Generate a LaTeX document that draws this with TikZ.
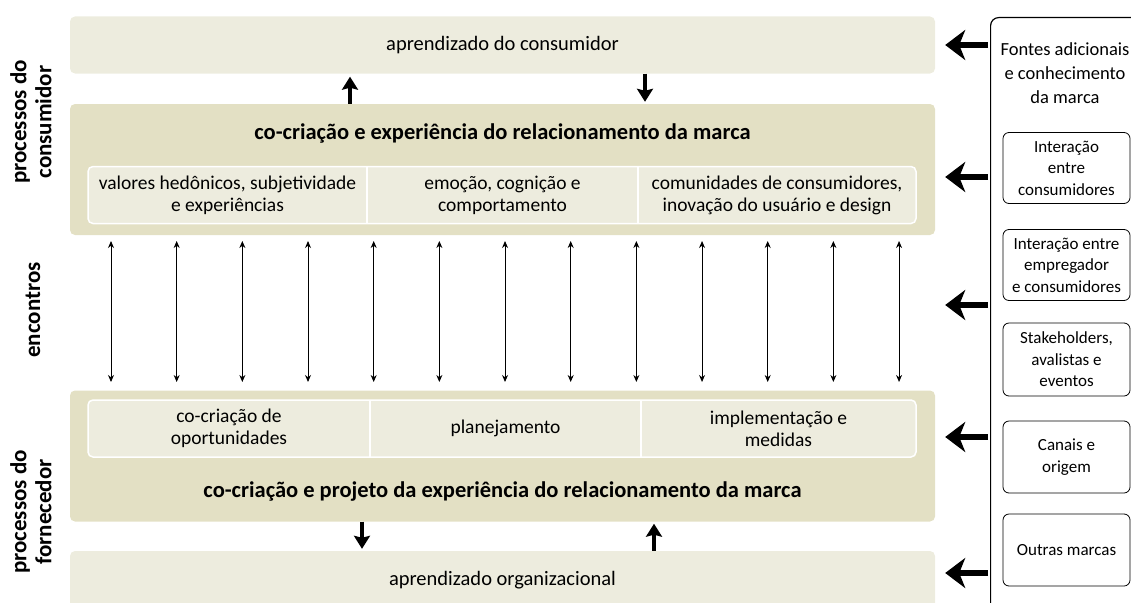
\documentclass[tikz,border=0pt]{standalone}
\usepackage{fontspec}
\setmainfont{Carlito}
\usetikzlibrary{arrows.meta}
\definecolor{paleolive}{RGB}{237,236,222}
\definecolor{olive}{RGB}{227,224,196}

\begin{document}
\begin{tikzpicture}[x=1pt, y=-1pt, font=\fontsize{19.5}{22}\selectfont,
  learn/.style = {fill=paleolive, rounded corners=5pt, minimum width=865pt, minimum height=57pt, inner sep=0pt, font=\fontsize{20.5}{22}\selectfont},
  band/.style = {fill=olive, rounded corners=5pt, minimum width=865pt, minimum height=131pt, inner sep=0pt},
  row/.style = {fill=paleolive, draw=white, line width=1.5pt, rounded corners=5pt, minimum width=828pt, minimum height=57pt, inner sep=0pt},
  cell/.style = {align=center, minimum height=57pt, inner sep=0pt},
  title/.style = {font=\fontsize{22.5}{24}\selectfont\bfseries},
  side/.style = {rotate=90, align=center, font=\fontsize{23}{25}\selectfont\bfseries},
  source/.style = {draw, rounded corners=6pt, line width=0.8pt, minimum width=127pt, minimum height=71pt, align=center, inner sep=0pt, font=\fontsize{17}{21.5}\selectfont},
  fat/.style = {line width=4pt, -{Stealth[length=13pt, width=16pt, inset=2pt]}},
  wide/.style = {line width=5.5pt, -{Stealth[length=20pt, width=30pt, inset=6pt]}, shorten <=2pt, shorten >=10pt},
  link/.style = {line width=0.9pt, {Stealth[length=7pt, width=6pt]}-{Stealth[length=7pt, width=6pt]}}]

    \useasboundingbox (0,0) rectangle (1131,602);

    % consumer side
    \node[learn] (cl) at (502.5,45) {aprendizado do consumidor};
    \node[band] (cb) at (502.5,169.5) {};
    \node[title] (ct) at (502.5,133) {co-criação e experiência do relacionamento da marca};
    \node[row] (cr) at (502,195) {};
    \node[cell, minimum width=279pt] (c1) at (227.5,195) {valores hedônicos, subjetividade\\e experiências};
    \node[cell, minimum width=271pt] (c2) at (502.5,195) {emoção, cognição e\\comportamento};
    \node[cell, minimum width=278pt] (c3) at (777,195) {comunidades de consumidores,\\inovação do usuário e design};
    \draw[white, line width=1.5pt] (c1.north east) -- (c1.south east);
    \draw[white, line width=1.5pt] (c2.north east) -- (c2.south east);

    \draw[fat, shorten >=3pt] (350,0 |- cb.north) -- (350,0 |- cl.south);
    \draw[fat, shorten >=2pt] (645,0 |- cl.south) -- (645,0 |- cb.north);

    % encounters
    \foreach \i in {0,...,12} {
        \coordinate (top\i) at ({111+65.67*\i},241);
        \coordinate (bot\i) at ({111+65.67*\i},382);
        \draw[link] (top\i) -- (bot\i);
    }

    % supplier side
    \node[band] (sb) at (502.5,456) {};
    \node[row] (sr) at (502,428.5) {};
    \node[cell, minimum width=282pt] (s1) at (229,428.5) {co-criação de\\oportunidades};
    \node[cell, minimum width=271pt] (s2) at (505.5,428.5) {planejamento};
    \node[cell, minimum width=275pt] (s3) at (778.5,428.5) {implementação e\\medidas};
    \draw[white, line width=1.5pt] (s1.north east) -- (s1.south east);
    \draw[white, line width=1.5pt] (s2.north east) -- (s2.south east);
    \node[title] (st) at (502.5,491) {co-criação e projeto da experiência do relacionamento da marca};
    \node[learn, minimum height=58pt] (so) at (502.5,580) {aprendizado organizacional};

    \draw[fat, shorten >=2pt] (362,0 |- sb.south) -- (362,0 |- so.north);
    \draw[fat, shorten >=2pt] (654,0 |- so.north) -- (654,0 |- sb.south);

    % left labels
    \node[side] (pc) at (31,122) {processos do\\consumidor};
    \node[side] (en) at (33,310) {encontros};
    \node[side] (pf) at (31,512) {processos do\\fornecedor};

    % right panel
    \node[draw, line width=1.2pt, rounded corners=8pt, minimum width=160pt, minimum height=600pt, anchor=north west, inner sep=0pt] (rp) at (990,17) {};
    \node[align=center, font=\fontsize{18.5}{24}\selectfont] (fa) at (1065,73) {Fontes adicionais\\e conhecimento\\da marca};
    \node[source] (f1) at (1066.5,168) {Interação\\entre\\consumidores};
    \node[source] (f2) at (1066.5,265) {Interação entre\\empregador\\e consumidores};
    \node[source, minimum height=73pt] (f3) at (1066.5,359.5) {Stakeholders,\\avalistas e\\eventos};
    \node[source, minimum height=72pt] (f4) at (1066.5,457) {Canais e\\origem};
    \node[source, minimum height=72pt] (f5) at (1066.5,550) {Outras marcas};

    \draw[wide] (rp.west |- cl.east) -- (cl.east);
    \draw[wide] (rp.west |- 0,177) -- (cb.east |- 0,177);
    \draw[wide] (rp.west |- 0,305) -- (cb.east |- 0,305);
    \draw[wide] (rp.west |- 0,437) -- (sb.east |- 0,437);
    \draw[wide] (rp.west |- 0,573) -- (so.east |- 0,573);

\end{tikzpicture}
\end{document}
